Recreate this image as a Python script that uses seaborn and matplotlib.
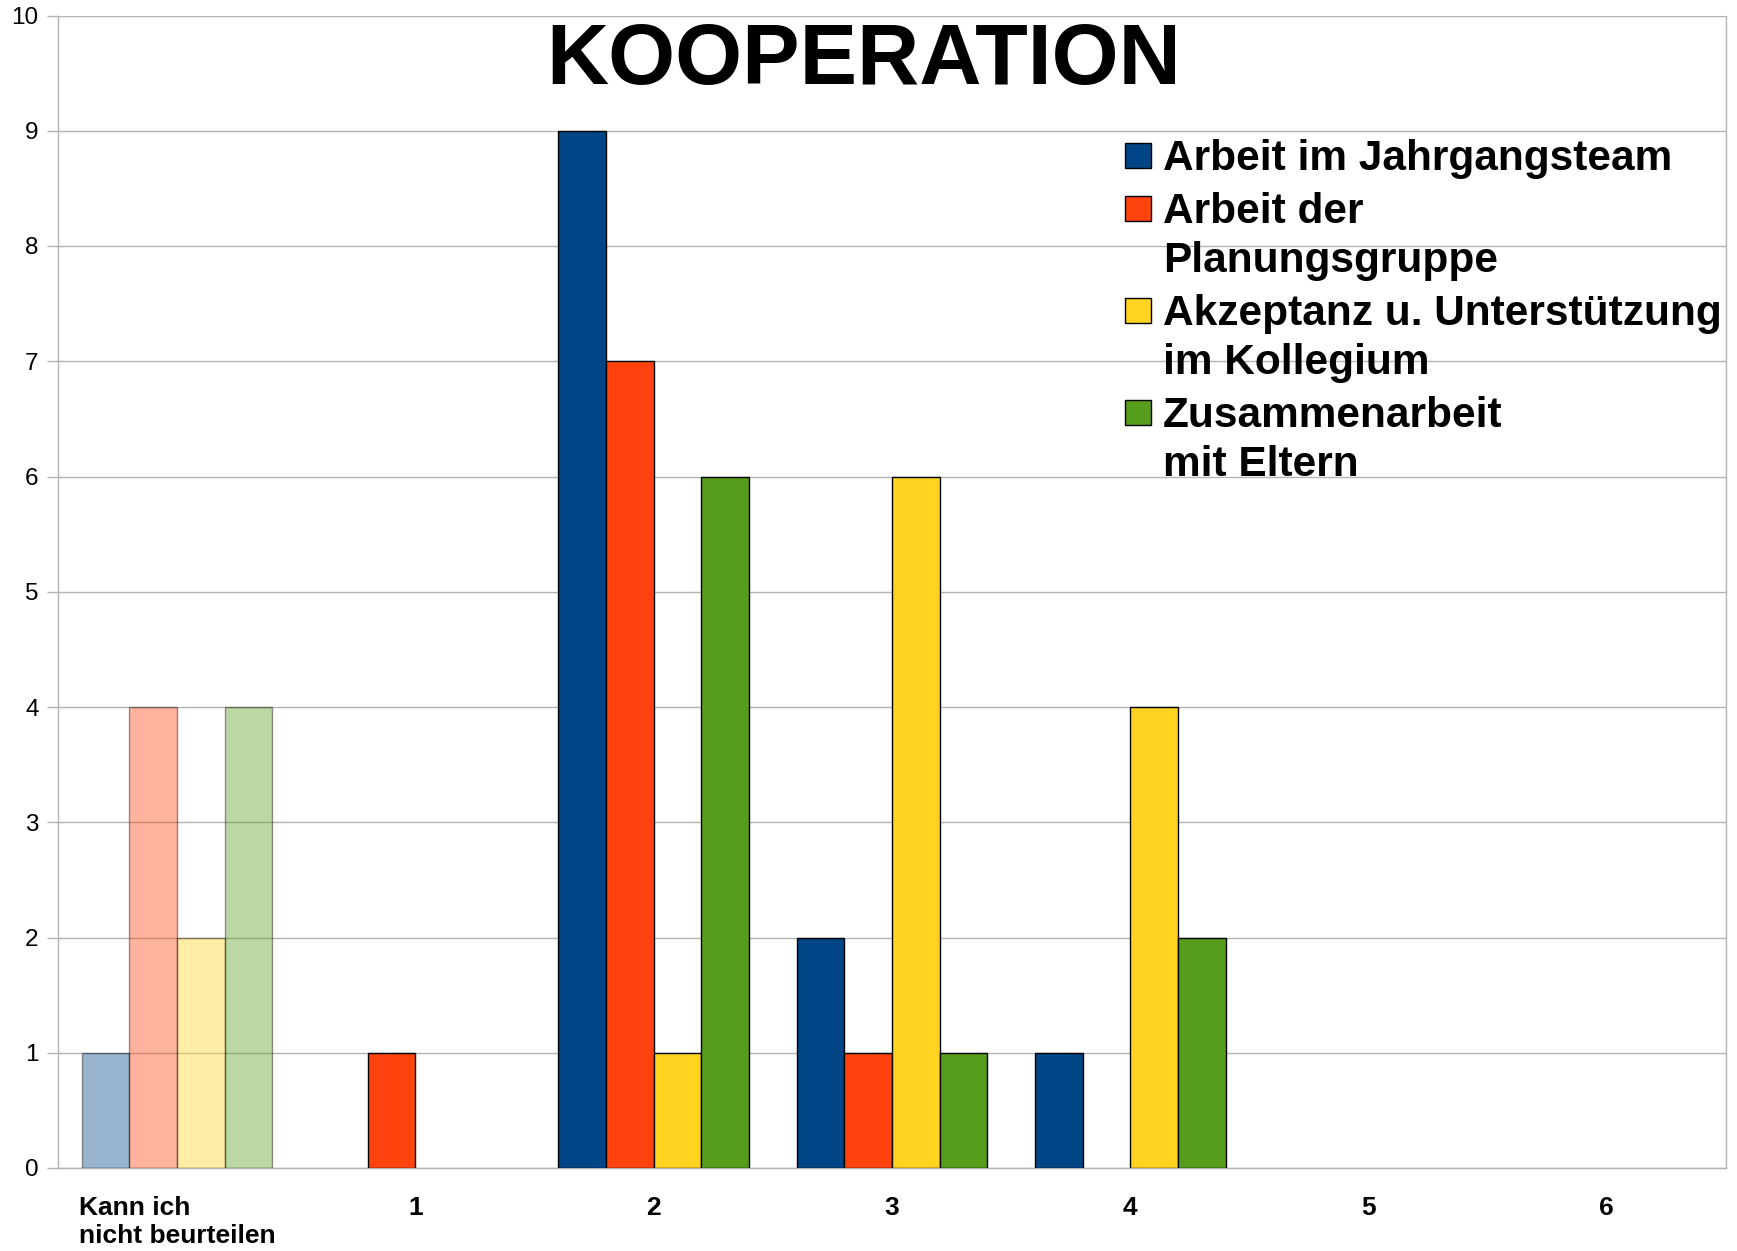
import pandas as pd
import matplotlib
matplotlib.use("Agg")
import matplotlib.pyplot as plt
from matplotlib.patches import Rectangle
import seaborn as sns

# 데이터
kategorien = ["Kann ich\nnicht beurteilen", "1", "2", "3", "4", "5", "6"]
jahrgangsteam = [1, 0, 9, 2, 1, 0, 0]
planungsgruppe = [4, 1, 7, 1, 0, 0, 0]
akzeptanz = [2, 0, 1, 6, 4, 0, 0]
eltern = [4, 0, 6, 1, 2, 0, 0]

serien = ["Arbeit im Jahrgangsteam", "Arbeit der\nPlanungsgruppe",
          "Akzeptanz u. Unterstützung\nim Kollegium", "Zusammenarbeit\nmit Eltern"]
farben = ["#004586", "#ff420e", "#ffd320", "#579d1c"]

rows = []
for name, werte in zip(serien, [jahrgangsteam, planungsgruppe, akzeptanz, eltern]):
    for k, v in zip(kategorien, werte):
        rows.append({"kategorie": k, "serie": name, "anzahl": v})
df = pd.DataFrame(rows)

sns.set_style("white", {"text.color": "black", "xtick.color": "black",
                        "ytick.color": "black", "axes.labelcolor": "black"})
plt.rcParams['font.family'] = ['Liberation Sans', 'DejaVu Sans']

W, H = 1737, 1251
fig = plt.figure(figsize=(W / 100, H / 100), dpi=100)
ax = fig.add_axes([58 / W, 1 - 1168 / H, (1726 - 58) / W, (1168 - 15.5) / H])

sns.barplot(data=df, x="kategorie", y="anzahl", hue="serie", order=kategorien,
            hue_order=serien, palette=farben, width=0.8, edgecolor="black",
            linewidth=1, saturation=1, ax=ax, zorder=3, legend=False)

# erste Kategorie halbtransparent, Nullbalken ausblenden
for p in ax.patches:
    if p.get_height() == 0:
        p.set_visible(False)
    elif p.get_x() + p.get_width() / 2 < 0.5:
        p.set_alpha(0.4)

ax.set_ylim(0, 10)
ax.set_xlim(-0.5, len(kategorien) - 0.5)
ax.set_yticks(range(0, 11))
ax.yaxis.grid(True, color="#b3b3b3", linewidth=1, zorder=0)
ax.set_axisbelow(True)

ax.set_xticks(range(len(kategorien)))
ax.set_xticklabels(kategorien, fontweight="bold", fontsize=19, multialignment="left")
ax.set_xticks([i - 0.5 for i in range(len(kategorien) + 1)], minor=True)
ax.tick_params(axis="x", which="major", length=0, pad=20)
ax.tick_params(axis="x", which="minor", length=9, color="#b3b3b3", width=1)
ax.tick_params(axis="y", length=8, color="#b3b3b3", width=1, labelsize=17.5, pad=6, left=True)

for s in ["left", "bottom", "right"]:
    ax.spines[s].set_color("#b3b3b3")
    ax.spines[s].set_linewidth(1)
ax.spines["top"].set_visible(False)

ax.set_xlabel("")
ax.set_ylabel("")

# Legende: Kästchen an der ersten Zeile ausgerichtet
baseline = 170
for name, farbe in zip(serien, farben):
    fig.patches.append(Rectangle((1125 / W, 1 - (baseline - 2) / H), 26 / W, 25 / H,
                                 facecolor=farbe, edgecolor="black", linewidth=1,
                                 transform=fig.transFigure, figure=fig))
    for zeile in name.split("\n"):
        fig.text(1163 / W, 1 - baseline / H, zeile, ha="left", va="baseline",
                 fontsize=30.5, fontweight="bold")
        baseline += 49
    baseline += 4

fig.text(0.497, 1 - 62 / H, "KOOPERATION", ha="center", va="center",
         fontsize=62, fontweight="bold")

fig.savefig("out.png", dpi=100)
